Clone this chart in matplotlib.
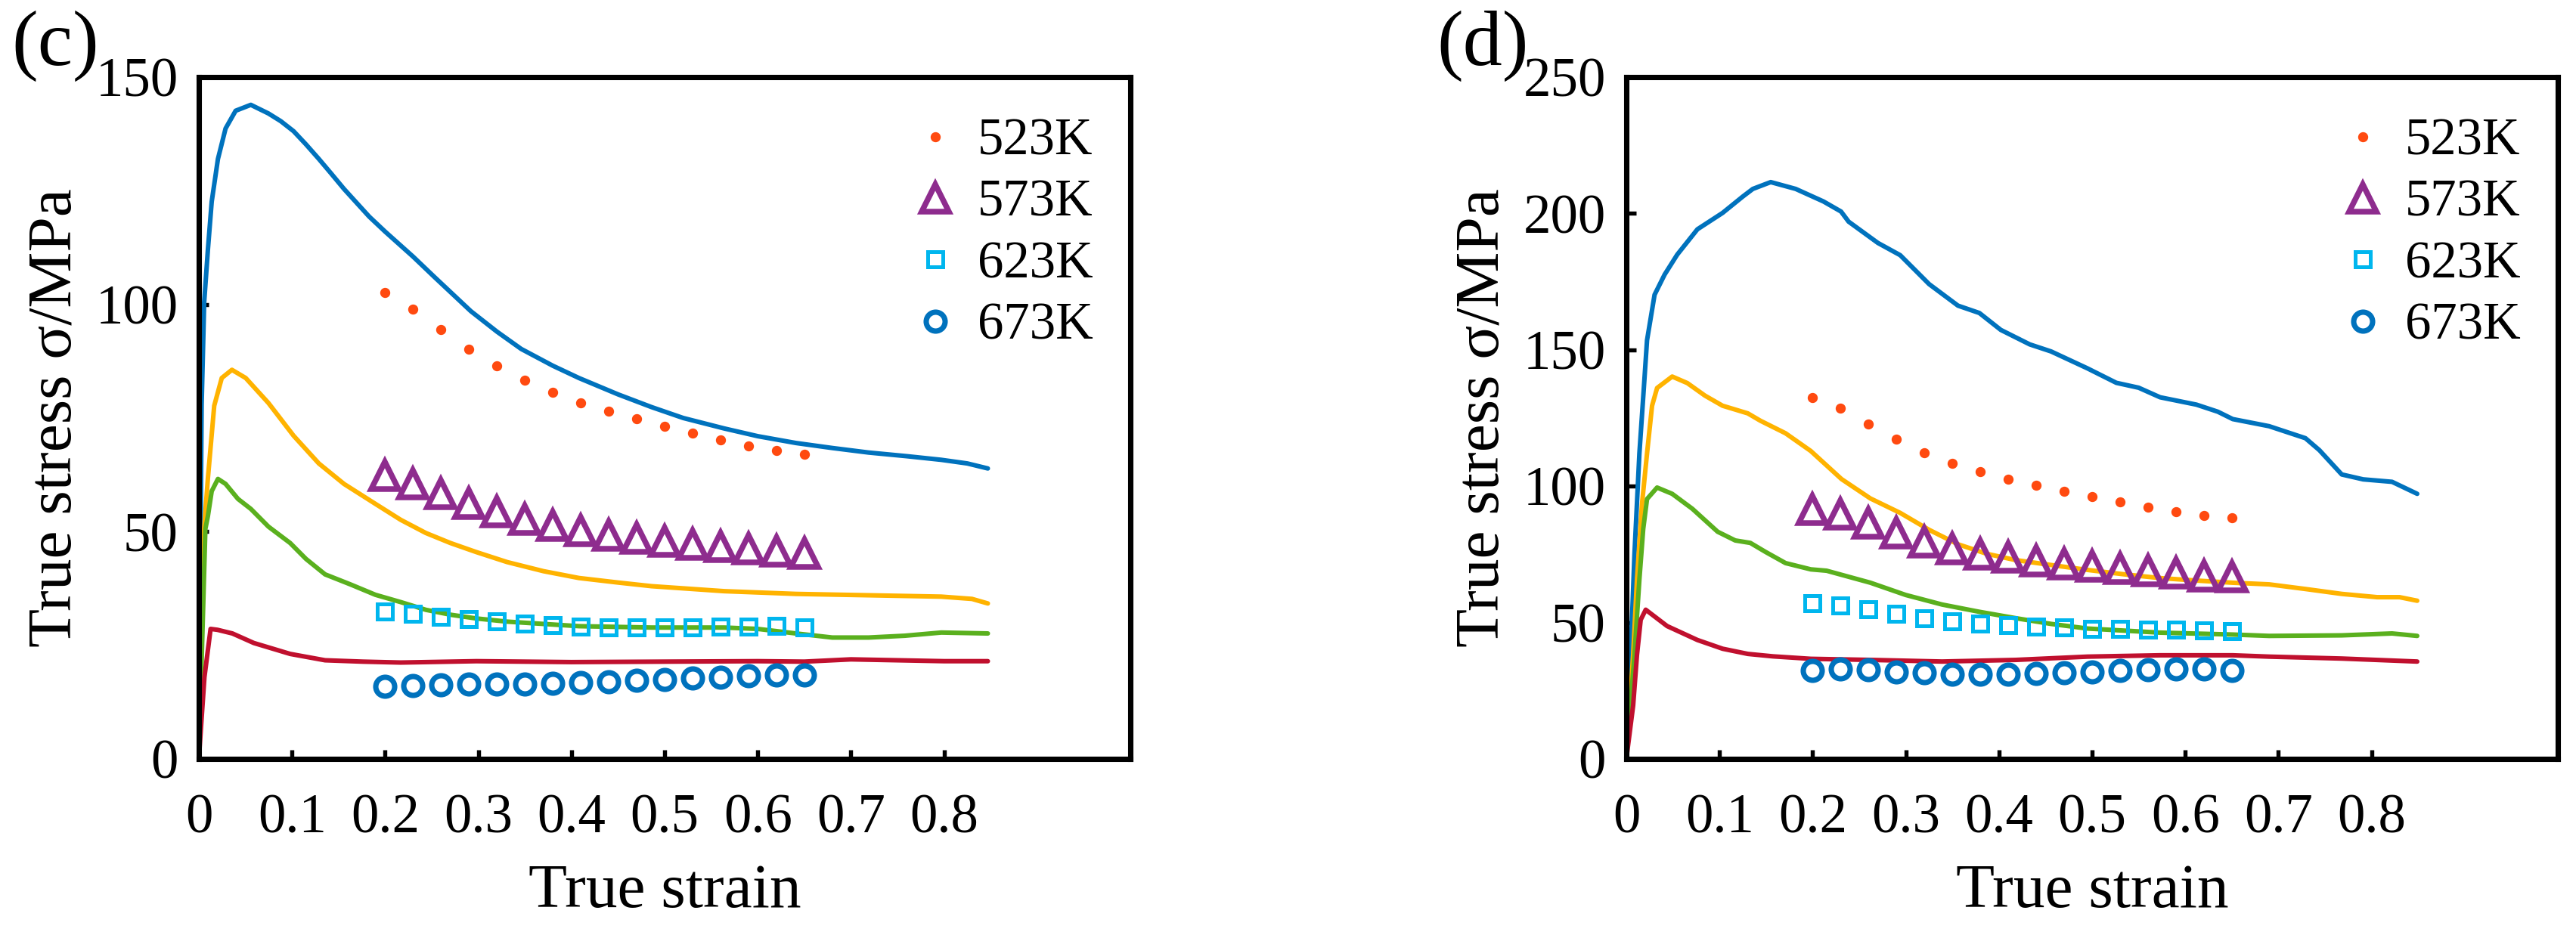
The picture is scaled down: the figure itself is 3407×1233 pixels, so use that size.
import matplotlib
matplotlib.use('Agg')
import matplotlib.pyplot as plt

plt.rcParams['font.family'] = ['Liberation Serif', 'DejaVu Serif']

# ---------------- data ----------------
temps = ['523K', '573K', '623K', '673K']
pt_strain = [0.20, 0.23, 0.26, 0.29, 0.32, 0.35, 0.38, 0.41,
             0.44, 0.47, 0.50, 0.53, 0.56, 0.59, 0.62, 0.65]

# panel (c) model points
c_523 = [102.6, 98.9, 94.4, 90.1, 86.4, 83.3, 80.6, 78.4, 76.5, 74.8, 73.1, 71.6, 70.1, 68.8, 67.8, 67.1]
c_573 = [62.3, 60.5, 58.3, 56.2, 54.3, 52.7, 51.4, 50.3, 49.2, 48.6, 47.9, 47.3, 46.8, 46.3, 45.8, 45.3]
c_623 = [32.4, 32.0, 31.3, 30.8, 30.3, 29.8, 29.4, 29.1, 29.0, 29.0, 29.0, 29.0, 29.1, 29.1, 29.2, 29.0]
c_673 = [16.0, 16.2, 16.3, 16.4, 16.4, 16.5, 16.6, 16.8, 17.0, 17.3, 17.5, 17.8, 18.0, 18.3, 18.5, 18.5]

# panel (c) experimental curves
c_blue_x = [0, 0.003, 0.0057, 0.0097, 0.0138, 0.0205, 0.0287, 0.0395, 0.0558, 0.0747, 0.088, 0.1017,
            0.115, 0.1288, 0.142, 0.1558, 0.17, 0.1829, 0.2, 0.23, 0.253, 0.292, 0.32, 0.346, 0.38,
            0.408, 0.45, 0.486, 0.52, 0.564, 0.6, 0.641, 0.68, 0.719, 0.76, 0.797, 0.825, 0.847]
c_blue_y = [0, 78, 100.4, 112.0, 122.6, 132.0, 138.7, 142.6, 143.9, 142.0, 140.3, 138.1,
            135.2, 132.0, 128.8, 125.4, 122.2, 119.3, 116.0, 110.5, 106.0, 98.5, 94.0, 90.2, 86.5,
            83.8, 80.2, 77.4, 75.0, 72.7, 71.0, 69.5, 68.4, 67.4, 66.6, 65.8, 65.0, 63.9]
c_orange_x = [0, 0.0057, 0.0097, 0.0165, 0.0246, 0.0355, 0.0503, 0.0747, 0.1017, 0.1288, 0.1558,
              0.1896, 0.2167, 0.2437, 0.27, 0.2979, 0.331, 0.37, 0.408, 0.45, 0.486, 0.564,
              0.641, 0.719, 0.797, 0.83, 0.847]
c_orange_y = [0, 50.6, 61.7, 77.7, 83.8, 85.6, 83.8, 78.3, 71.1, 65.0, 60.5,
              56.1, 52.6, 49.7, 47.5, 45.5, 43.3, 41.3, 39.8, 38.8, 38.0, 36.9,
              36.3, 36.0, 35.7, 35.2, 34.2]
c_green_x = [0, 0.007, 0.0097, 0.0138, 0.0205, 0.0287, 0.042, 0.0558, 0.0747, 0.098, 0.115,
             0.1355, 0.1626, 0.1896, 0.2167, 0.2437, 0.2708, 0.2979, 0.331, 0.408, 0.486, 0.564,
             0.6, 0.641, 0.68, 0.719, 0.758, 0.797, 0.847]
c_green_y = [0, 50.6, 53.4, 58.9, 61.6, 60.5, 57.2, 55.0, 51.1, 47.5, 44.0,
             40.6, 38.4, 36.1, 34.5, 32.8, 31.7, 30.9, 30.2, 29.2, 28.9, 28.9,
             28.6, 27.6, 26.7, 26.7, 27.1, 27.8, 27.6]
c_red_x = [0, 0.006, 0.0126, 0.02, 0.036, 0.059, 0.098, 0.1355, 0.176, 0.2167, 0.2979,
           0.4, 0.5, 0.6, 0.65, 0.7, 0.8, 0.847]
c_red_y = [0, 18.0, 28.6, 28.4, 27.6, 25.5, 23.1, 21.7, 21.4, 21.2, 21.5,
           21.3, 21.4, 21.5, 21.4, 21.9, 21.5, 21.5]

# panel (d) model points
d_523 = [132.6, 128.5, 122.9, 117.2, 112.3, 108.4, 105.2, 102.6, 100.2, 98.1, 96.2, 94.2, 92.3, 90.7, 89.3, 88.4]
d_573 = [91.6, 89.8, 86.6, 82.8, 79.6, 77.0, 75.2, 74.0, 72.5, 71.6, 70.7, 69.9, 69.0, 68.1, 67.2, 66.7]
d_623 = [57.1, 56.4, 54.8, 53.1, 51.6, 50.4, 49.5, 49.0, 48.5, 48.1, 47.8, 47.6, 47.4, 47.4, 47.2, 46.9]
d_673 = [32.4, 32.9, 32.6, 31.8, 31.5, 31.1, 31.0, 31.0, 31.3, 31.7, 32.0, 32.4, 32.7, 32.9, 32.9, 32.4]

# panel (d) experimental curves
d_blue_x = [0, 0.0046, 0.0087, 0.014, 0.0195, 0.0222, 0.0303, 0.0411, 0.0546, 0.0763, 0.1033,
            0.125, 0.1358, 0.155, 0.1818, 0.2116, 0.2305, 0.2386, 0.27, 0.294, 0.325, 0.356,
            0.379, 0.402, 0.433, 0.456, 0.495, 0.526, 0.55, 0.573, 0.612, 0.635, 0.651, 0.69,
            0.729, 0.744, 0.768, 0.791, 0.822, 0.849]
d_blue_y = [0, 38, 75, 112, 139.7, 153.5, 170.2, 177.6, 184.9, 194.2, 200.2,
            206.2, 209.0, 211.5, 209.0, 204.4, 200.7, 197.0, 189.2, 184.7, 174.1, 166.2,
            163.5, 157.3, 152.0, 149.4, 143.2, 137.9, 136.1, 132.6, 129.9, 127.3, 124.6, 122.0,
            117.6, 113.2, 104.3, 102.5, 101.6, 97.2]
d_orange_x = [0, 0.0073, 0.0114, 0.0168, 0.0222, 0.0276, 0.033, 0.0492, 0.0655, 0.0844, 0.1033,
              0.1304, 0.1439, 0.1709, 0.198, 0.231, 0.262, 0.294, 0.325, 0.356, 0.387, 0.418,
              0.456, 0.495, 0.534, 0.573, 0.612, 0.651, 0.69, 0.729, 0.768, 0.806, 0.83, 0.849]
d_orange_y = [0, 38.1, 65.8, 93.5, 112.0, 129.5, 136.0, 140.2, 137.8, 133.2, 129.5,
              126.7, 124.0, 119.4, 112.9, 102.6, 95.5, 90.2, 84.0, 78.7, 75.2, 72.9,
              71.1, 69.3, 67.7, 66.3, 65.4, 64.6, 64.0, 62.3, 60.5, 59.3, 59.3, 58.0]
d_green_x = [0, 0.0087, 0.014, 0.0181, 0.0222, 0.033, 0.0492, 0.0709, 0.098, 0.1169, 0.1331,
             0.1494, 0.1709, 0.198, 0.215, 0.262, 0.3, 0.339, 0.378, 0.418, 0.456, 0.495,
             0.573, 0.651, 0.69, 0.768, 0.822, 0.849]
d_green_y = [0, 38.1, 65.8, 84.3, 95.3, 99.5, 97.2, 91.7, 83.3, 80.1, 79.2,
             75.9, 71.8, 69.5, 69.0, 64.6, 60.1, 56.6, 54.0, 51.6, 49.5, 47.8,
             46.3, 45.6, 45.1, 45.3, 46.0, 45.1]
d_red_x = [0, 0.0073, 0.0114, 0.0154, 0.0208, 0.0438, 0.0763, 0.1033, 0.1304, 0.1575, 0.198,
           0.262, 0.339, 0.418, 0.495, 0.573, 0.651, 0.69, 0.768, 0.849]
d_red_y = [0, 19.6, 38.1, 51.0, 54.7, 48.7, 43.6, 40.4, 38.5, 37.6, 36.7,
           36.3, 35.7, 36.3, 37.5, 38.0, 38.0, 37.5, 36.8, 35.7]

xticks = [0, 0.1, 0.2, 0.3, 0.4, 0.5, 0.6, 0.7, 0.8]
xtick_labels = ['0', '0.1', '0.2', '0.3', '0.4', '0.5', '0.6', '0.7', '0.8']
c_yticks = [0, 50, 100, 150]
d_yticks = [0, 50, 100, 150, 200, 250]

# ---------------- styles ----------------
C_BLUE = '#0072BD'
C_ORANGE = '#FFB300'
C_GREEN = '#5AB01E'
C_RED = '#C0102E'
C_DOT = '#FF4A10'
C_PURPLE = '#8E2C8E'
C_CYAN = '#00B6EE'
C_CIRC = '#0072BD'

W, H = 3407, 1233
fig = plt.figure(figsize=(W / 300, H / 300), dpi=300)
axc = fig.add_axes([263 / W, 1 - 1004 / H, 1232 / W, 902 / H])
axd = fig.add_axes([2151 / W, 1 - 1004 / H, 1232 / W, 902 / H])


def draw(ax, curves, pts, ymax, yticks):
    lw = 1.45
    for (x, y), col in zip(curves, [C_BLUE, C_ORANGE, C_GREEN, C_RED]):
        ax.plot(x, y, color=col, lw=lw, zorder=2, solid_capstyle='round',
                solid_joinstyle='round')
    p523, p573, p623, p673 = pts
    ax.plot(pt_strain, p523, ls='none', marker='o', ms=2.2, color=C_DOT, mec=C_DOT,
            label=temps[0], zorder=3)
    ax.plot(pt_strain, p573, ls='none', marker='^', ms=8.5, mfc='none', mec=C_PURPLE,
            mew=1.8, label=temps[1], zorder=3)
    ax.plot(pt_strain, p623, ls='none', marker='s', ms=5.0, mfc='none', mec=C_CYAN,
            mew=1.2, label=temps[2], zorder=3)
    ax.plot(pt_strain, p673, ls='none', marker='o', ms=6.0, mfc='none', mec=C_CIRC,
            mew=1.7, label=temps[3], zorder=3)

    ax.set_xlim(0, 1.0)
    ax.set_ylim(0, ymax)
    ax.set_xticks(xticks)
    ax.set_xticklabels(xtick_labels)
    ax.set_yticks(yticks)
    ax.set_yticklabels([str(v) for v in yticks])
    for s in ax.spines.values():
        s.set_linewidth(1.7)
    ax.tick_params(direction='in', length=3.0, width=1.3, labelsize=17.5,
                   top=False, right=False)
    ax.tick_params(axis='x', pad=11)
    ax.tick_params(axis='y', pad=6.5)
    ax.set_xlabel('True strain', fontsize=20, labelpad=6)
    ax.set_ylabel('True stress σ/MPa', fontsize=20)
    ax.yaxis.set_label_coords(-0.123, 0.5)
    ax.legend(loc='upper left', bbox_to_anchor=(0.768, 0.94), frameon=False,
              fontsize=16.5, handlelength=0.8, handletextpad=0.42, labelspacing=0.26,
              borderpad=0, borderaxespad=0, numpoints=1)


draw(axc, [(c_blue_x, c_blue_y), (c_orange_x, c_orange_y), (c_green_x, c_green_y),
           (c_red_x, c_red_y)], [c_523, c_573, c_623, c_673], 150, c_yticks)
draw(axd, [(d_blue_x, d_blue_y), (d_orange_x, d_orange_y), (d_green_x, d_green_y),
           (d_red_x, d_red_y)], [d_523, d_573, d_623, d_673], 250, d_yticks)

fig.text(15 / W, 1 - 14 / H, '(c)', fontsize=25, va='top', ha='left')
fig.text(1900 / W, 1 - 14 / H, '(d)', fontsize=25, va='top', ha='left')

fig.savefig('out.png', dpi=300)
